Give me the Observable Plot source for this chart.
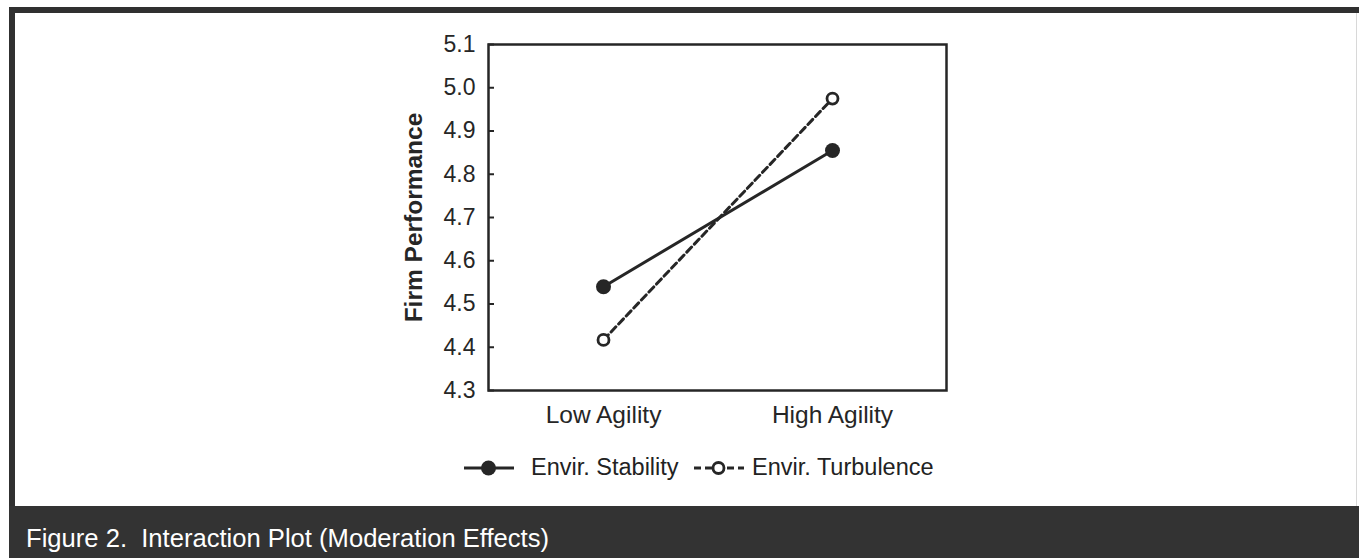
<!DOCTYPE html>
<html>
<head>
<meta charset="utf-8">
<script src="https://cdn.jsdelivr.net/npm/d3@7"></script>
<script src="https://cdn.jsdelivr.net/npm/@observablehq/plot@0.6"></script>
<style>
  html, body { margin: 0; padding: 0; background: #fff; width: 1359px; height: 558px; overflow: hidden; }
  body { position: relative; font-family: "Liberation Sans", Arial, sans-serif; }
  #frame { position: absolute; left: 9px; top: 7px; width: 1350px; height: 499px; box-sizing: border-box;
           border-top: 6px solid #303030; border-left: 6px solid #303030; }
  #rightline { position: absolute; left: 1356px; top: 13px; width: 1px; height: 493px; background: #d8d8d8; }
  #chart { position: absolute; left: 0; top: 0; }
  #caption { position: absolute; left: 9px; top: 506px; width: 1350px; height: 52px; background: #333; }
  #captext { position: absolute; left: 26px; top: 525px; font-size: 25.6px; line-height: 26px; color: #fff; white-space: pre; }
  .leg { position: absolute; font-size: 23.5px; line-height: 23.5px; color: #222; white-space: pre; }
  .sym { position: absolute; }
</style>
</head>
<body>
<div id="frame"></div>
<div id="rightline"></div>
<div id="chart"></div>
<div id="legend"></div>
<div id="caption"></div>
<div id="captext"></div>
<script>
// ---- data ----
const agility = ["Low Agility", "High Agility"];
const stability = [4.54, 4.855];
const turbulence = [4.417, 4.975];
const yTicks = [4.3, 4.4, 4.5, 4.6, 4.7, 4.8, 4.9, 5.0, 5.1];
const seriesNames = ["Envir. Stability", "Envir. Turbulence"];
const yLabel = "Firm Performance";
const captionText = "Figure 2.  Interaction Plot (Moderation Effects)";

const ink = "#262626";
const stabRows = agility.map((a, i) => ({agility: a, value: stability[i]}));
const turbRows = agility.map((a, i) => ({agility: a, value: turbulence[i]}));

const W = 1359, H = 430;
const mL = 488, mR = 413, mT = 44, mB = 40;
const plotW = W - mL - mR;

const chart = Plot.plot({
  width: W,
  height: H,
  marginLeft: mL,
  marginRight: mR,
  marginTop: mT,
  marginBottom: mB,
  style: {background: "transparent", fontSize: "23px", fontFamily: "Liberation Sans, Arial, sans-serif", color: ink, overflow: "visible"},
  x: {type: "point", domain: agility, padding: 0.5},
  y: {domain: [4.3, 5.1]},
  marks: [
    Plot.axisY({ticks: yTicks, tickFormat: d3.format(".1f"), tickSize: 0, tickPadding: 13, label: null, fill: ink}),
    Plot.axisX({tickSize: 0, tickPadding: 15, label: null, fill: ink, fontSize: 24.5}),
    Plot.ruleY(yTicks, {y: d => d, stroke: ink, strokeWidth: 2, insetRight: plotW - 6}),
    Plot.text([yLabel], {frameAnchor: "left", textAnchor: "middle", rotate: -90, dx: -74, fontWeight: "bold", fontSize: 24.5, fill: ink}),
    Plot.line(stabRows, {x: "agility", y: "value", stroke: ink, strokeWidth: 3}),
    Plot.line(turbRows, {x: "agility", y: "value", stroke: ink, strokeWidth: 3, strokeDasharray: "7,4"}),
    Plot.dot(stabRows, {x: "agility", y: "value", r: 7.5, fill: ink, stroke: "none"}),
    Plot.dot(turbRows, {x: "agility", y: "value", r: 5.5, fill: "white", stroke: ink, strokeWidth: 2.8}),
    Plot.frame({stroke: ink, strokeWidth: 2.5})
  ]
});
document.getElementById("chart").appendChild(chart);

// ---- legend ----
const legend = document.getElementById("legend");
legend.innerHTML = `
  <svg class="sym" style="left:463px;top:458px" width="52" height="20">
    <line x1="1" y1="10" x2="51" y2="10" stroke="${ink}" stroke-width="3"/>
    <circle cx="25.5" cy="10" r="7.5" fill="${ink}"/>
  </svg>
  <div class="leg" style="left:531px;top:456px">${seriesNames[0]}</div>
  <svg class="sym" style="left:693px;top:458px" width="52" height="20">
    <line x1="1" y1="10" x2="51" y2="10" stroke="${ink}" stroke-width="3" stroke-dasharray="7,4"/>
    <circle cx="25.5" cy="10" r="5.5" fill="white" stroke="${ink}" stroke-width="2.8"/>
  </svg>
  <div class="leg" style="left:752px;top:456px">${seriesNames[1]}</div>`;

document.getElementById("captext").textContent = captionText;
</script>
</body>
</html>
